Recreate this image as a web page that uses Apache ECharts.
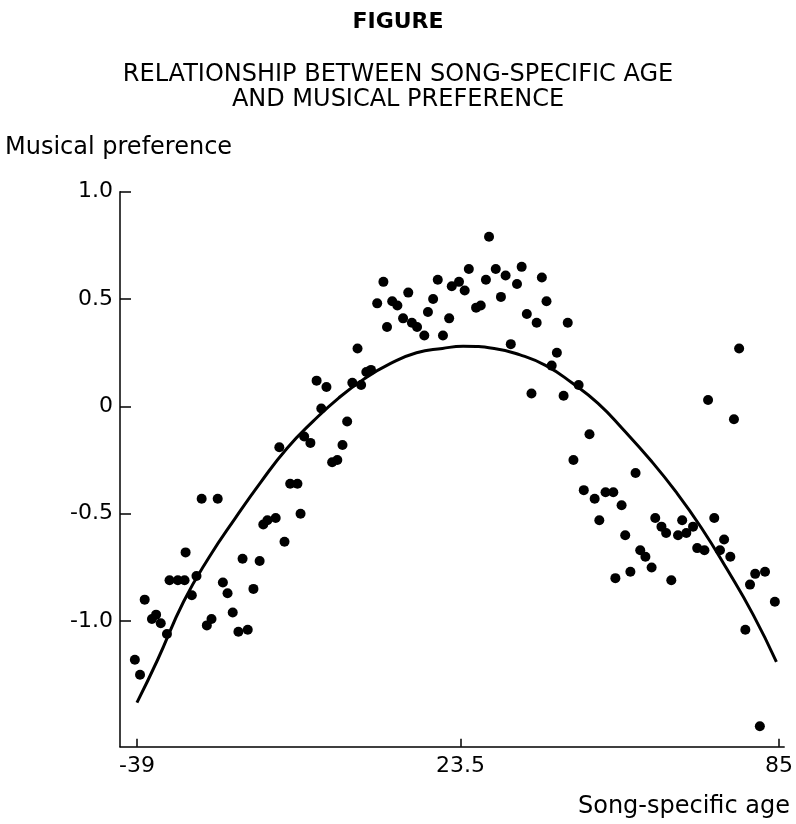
<!DOCTYPE html>
<html>
<head>
<meta charset="utf-8">
<title>Song-specific age and musical preference</title>
<script src="https://cdn.jsdelivr.net/npm/echarts@6/dist/echarts.min.js"></script>
<style>
  html, body { margin: 0; padding: 0; background: #fff; }
  #chart { width: 796px; height: 824px; }
</style>
</head>
<body>
<div id="chart"></div>
<script>
// song-specific age (years) and musical preference, one entry per song
const songAge = [
  -39.4, -38.4, -37.5, -36.1, -35.3, -34.4, -33.2, -32.7, -31.1, -29.8,
  -29.6, -28.4, -27.5, -26.5, -23.4, -25.5, -24.6, -22.4, -21.5, -20.5,
  -19.4, -17.6, -18.6, -15.3, -16.5, -14.6, -13.8, -12.2, -10.5, -9.4,
  -8.0, -7.4, -11.5, -6.7, -5.5, -4.3, -2.4, -3.4, -1.3, -0.3,
  0.7, 1.6, 2.6, 4.3, 3.6, 5.3, 6.2, 7.4, 8.6, 10.3,
  11.3, 9.3, 12.4, 14.1, 15.1, 13.4, 16.5, 17.2, 18.2, 19.1,
  20.1, 21.3, 21.8, 23.2, 24.3, 25.1, 26.5, 27.4, 29.0, 28.4,
  30.3, 31.3, 32.2, 34.4, 35.3, 36.3, 38.2, 39.2, 40.1, 33.2,
  37.2, 42.1, 41.1, 44.2, 46.3, 43.4, 48.4, 45.3, 57.3, 47.3,
  49.4, 51.5, 53.0, 54.6, 50.3, 61.1, 62.3, 63.2, 66.3, 65.5,
  67.1, 68.4, 72.5, 74.4, 55.3, 58.2, 59.2, 69.2, 70.6, 73.6,
  75.6, 60.4, 56.3, 53.4, 64.2, 79.4, 80.4, 82.3, 84.2, 78.5,
  81.3, 71.3, 76.3, 77.3
];
const preference = [
  -1.18, -1.25, -0.90, -0.99, -0.97, -1.01, -1.06, -0.81, -0.81, -0.81,
  -0.68, -0.88, -0.79, -0.43, -0.43, -1.02, -0.99, -0.82, -0.87, -0.96,
  -1.05, -1.04, -0.71, -0.72, -0.85, -0.55, -0.53, -0.52, -0.63, -0.36,
  -0.36, -0.50, -0.19, -0.14, -0.17, 0.12, 0.09, -0.01, -0.26, -0.25,
  -0.18, -0.07, 0.11, 0.10, 0.27, 0.16, 0.17, 0.48, 0.58, 0.49,
  0.47, 0.37, 0.41, 0.39, 0.37, 0.53, 0.33, 0.44, 0.50, 0.59,
  0.33, 0.41, 0.56, 0.58, 0.54, 0.64, 0.46, 0.47, 0.79, 0.59,
  0.64, 0.51, 0.61, 0.57, 0.65, 0.43, 0.39, 0.60, 0.49, 0.29,
  0.06, 0.25, 0.19, 0.39, 0.10, 0.05, -0.13, -0.25, -0.31, -0.39,
  -0.43, -0.40, -0.40, -0.46, -0.53, -0.52, -0.56, -0.59, -0.53, -0.60,
  -0.59, -0.56, -0.52, -0.62, -0.60, -0.67, -0.70, -0.66, -0.67, -0.67,
  -0.70, -0.75, -0.77, -0.80, -0.81, -0.83, -0.78, -0.77, -0.91, -1.04,
  -1.49, 0.03, -0.06, 0.27
];

// fitted curve
const fitAge = [-39, -35, -30, -25, -20, -15, -10, -5, 0, 5, 10, 15, 20, 24, 30, 35, 40, 45, 50, 55, 60, 65, 70, 75, 80, 84.5];
const fitPref = [-1.38, -1.18, -0.91, -0.70, -0.52, -0.35, -0.195, -0.07, 0.04, 0.13, 0.20, 0.25, 0.27, 0.28, 0.27, 0.24, 0.19, 0.11, 0.015, -0.11, -0.245, -0.395, -0.565, -0.76, -0.97, -1.19];

const xTickValues = [-39, 23.5, 85];
const xTickLabels = ['-39', '23.5', '85'];
const yTickValues = [-1, -0.5, 0, 0.5, 1];
const yTickLabels = ['-1.0', '-0.5', '0', '0.5', '1.0'];

const FONT = '"DejaVu Sans", "Liberation Sans", sans-serif';

const chart = echarts.init(document.getElementById('chart'), null, { renderer: 'canvas' });

const option = {
  backgroundColor: '#fff',
  animation: false,
  grid: { left: 120, right: 10, top: 191.7, bottom: 77.3 },
  graphic: [
    { type: 'text', x: 398, y: 22, style: { text: 'FIGURE', font: 'bold 22px ' + FONT, fill: '#000', textAlign: 'center', textVerticalAlign: 'middle' } },
    { type: 'text', x: 398, y: 75, style: { text: 'RELATIONSHIP BETWEEN SONG-SPECIFIC AGE', font: '24px ' + FONT, fill: '#000', textAlign: 'center', textVerticalAlign: 'middle' } },
    { type: 'text', x: 398, y: 100, style: { text: 'AND MUSICAL PREFERENCE', font: '24px ' + FONT, fill: '#000', textAlign: 'center', textVerticalAlign: 'middle' } },
    { type: 'text', x: 5, y: 148, style: { text: 'Musical preference', font: '24px ' + FONT, fill: '#000', textAlign: 'left', textVerticalAlign: 'middle' } },
    { type: 'text', x: 790, y: 807, style: { text: 'Song-specific age', font: '24px ' + FONT, fill: '#000', textAlign: 'right', textVerticalAlign: 'middle' } }
  ],
  xAxis: {
    type: 'value',
    min: -42.27,
    max: 86,
    axisLine: { show: true, onZero: false, lineStyle: { color: '#000', width: 1.5 } },
    axisTick: { show: true, inside: true, length: 8, customValues: xTickValues, lineStyle: { color: '#000', width: 1.5 } },
    axisLabel: {
      customValues: xTickValues,
      margin: 9,
      color: '#000',
      fontFamily: FONT,
      fontSize: 22,
      formatter: (v) => xTickLabels[xTickValues.indexOf(v)]
    },
    splitLine: { show: false }
  },
  yAxis: {
    type: 'value',
    min: -1.585,
    max: 1.0,
    axisLine: { show: true, onZero: false, lineStyle: { color: '#000', width: 1.5 } },
    axisTick: { show: true, inside: true, length: 11, customValues: yTickValues, lineStyle: { color: '#000', width: 1.5 } },
    axisLabel: {
      customValues: yTickValues,
      margin: 7,
      color: '#000',
      fontFamily: FONT,
      fontSize: 22,
      formatter: (v) => yTickLabels[yTickValues.indexOf(v)]
    },
    splitLine: { show: false }
  },
  series: [
    {
      name: 'songs',
      type: 'scatter',
      symbol: 'circle',
      symbolSize: 10,
      itemStyle: { color: '#000', opacity: 1 },
      data: songAge.map((a, i) => [a, preference[i]])
    },
    {
      name: 'fit',
      type: 'line',
      smooth: true,
      showSymbol: false,
      lineStyle: { color: '#000', width: 3 },
      data: fitAge.map((a, i) => [a, fitPref[i]])
    }
  ]
};

chart.setOption(option);
</script>
</body>
</html>
